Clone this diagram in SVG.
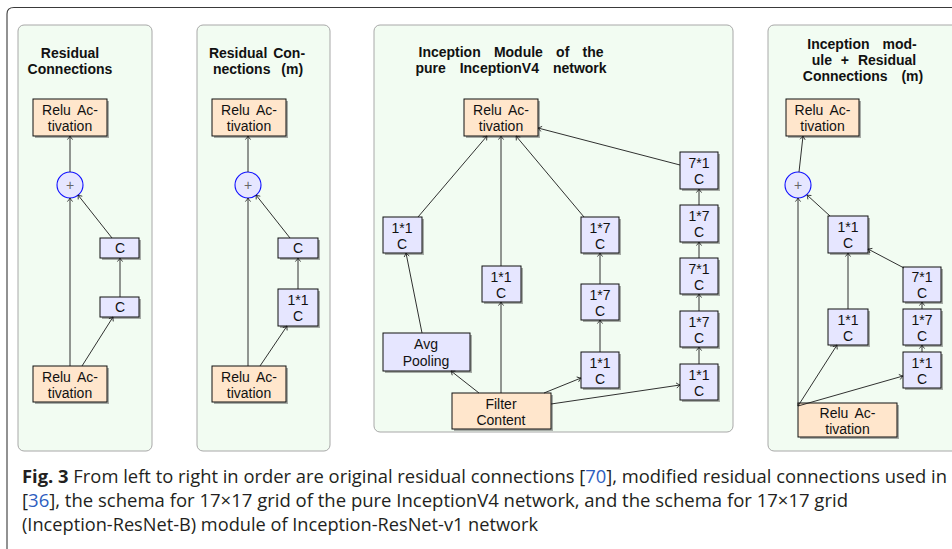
<svg xmlns="http://www.w3.org/2000/svg" width="952" height="549" viewBox="0 0 952 549">
<style>
.frame{fill:none;stroke:#3a3a3a;stroke-width:1.1}
.panel{fill:#F2FCF2;stroke:#A8A8A8;stroke-width:1}
.sh{fill:#6a6a6a;opacity:.55}
.relu{fill:#FFE6CC;stroke:#111;stroke-width:1}
.conv{fill:#E6E6FF;stroke:#111;stroke-width:1}
.add{fill:#E6E6FF;stroke:#1010FF;stroke-width:1.1}
.t{font-family:"Liberation Sans",Arial,sans-serif;font-size:14px;text-anchor:middle;fill:#111}
.h{font-weight:bold}
.plus{font-family:"Liberation Sans",Arial,sans-serif;font-size:14px;text-anchor:middle;fill:#666}
.e{stroke:#1a1a1a;stroke-width:0.9;fill:none;marker-end:url(#a)}
.cap{font-family:"Open Sans","Noto Sans",sans-serif;font-size:18px;fill:#231F20}
.ref{fill:#2E5EC0}
</style>
<defs>
<marker id="a" viewBox="-5 -4 8 8" markerWidth="8" markerHeight="8" refX="0" refY="0" orient="auto" markerUnits="userSpaceOnUse">
<path d="M-3.6,-2.6 Q-1.4,-0.7 0,0 Q-1.4,0.7 -3.6,2.6" fill="none" stroke="#1a1a1a" stroke-width="0.8"/>
</marker>
</defs>
<path class="frame" d="M7,549 V14 Q7,7.5 14,7.5 H952"/>

<!-- Panel 1 -->
<g id="panel1">
<rect class="panel" x="18" y="25" width="134" height="426" rx="6"/>
<text class="t h" x="70" y="58">Residual</text>
<text class="t h" x="70" y="74">Connections</text>
</g>
<g id="p1-relu-top"><rect class="sh" x="35" y="101" width="74" height="37"/><rect class="relu" x="33" y="99" width="74" height="37"/><text class="t" x="70" y="115" word-spacing="3">Relu Ac-</text><text class="t" x="70" y="131">tivation</text></g>
<g id="p1-add"><circle class="add" cx="70" cy="185" r="13"/><text class="plus" x="70" y="190">+</text></g>
<g id="p1-c2"><rect class="sh" x="102" y="240" width="39" height="20"/><rect class="conv" x="100" y="238" width="39" height="20"/><text class="t" x="120" y="253">C</text></g>
<g id="p1-c1"><rect class="sh" x="102" y="299" width="39" height="20"/><rect class="conv" x="100" y="297" width="39" height="20"/><text class="t" x="120" y="312">C</text></g>
<g id="p1-relu-bot"><rect class="sh" x="35" y="368" width="74" height="36"/><rect class="relu" x="33" y="366" width="74" height="36"/><text class="t" x="70" y="382" word-spacing="3">Relu Ac-</text><text class="t" x="70" y="398">tivation</text></g>

<!-- Panel 2 -->
<g id="panel2">
<rect class="panel" x="197" y="25" width="133" height="426" rx="6"/>
<text class="t h" x="257" y="58" word-spacing="2">Residual Con-</text>
<text class="t h" x="258" y="74" word-spacing="7">nections (m)</text>
</g>
<g id="p2-relu-top"><rect class="sh" x="214" y="101" width="74" height="37"/><rect class="relu" x="212" y="99" width="74" height="37"/><text class="t" x="249" y="115" word-spacing="3">Relu Ac-</text><text class="t" x="249" y="131">tivation</text></g>
<g id="p2-add"><circle class="add" cx="248" cy="185" r="13"/><text class="plus" x="248" y="190">+</text></g>
<g id="p2-c"><rect class="sh" x="280" y="240" width="40" height="20"/><rect class="conv" x="278" y="238" width="40" height="20"/><text class="t" x="298" y="253">C</text></g>
<g id="p2-c11"><rect class="sh" x="280" y="291" width="40" height="37"/><rect class="conv" x="278" y="289" width="40" height="37"/><text class="t" x="298" y="305">1*1</text><text class="t" x="298" y="321">C</text></g>
<g id="p2-relu-bot"><rect class="sh" x="214" y="368" width="74" height="36"/><rect class="relu" x="212" y="366" width="74" height="36"/><text class="t" x="249" y="382" word-spacing="3">Relu Ac-</text><text class="t" x="249" y="398">tivation</text></g>

<!-- Panel 3 -->
<g id="panel3">
<rect class="panel" x="374" y="25" width="359" height="407" rx="6"/>
<text class="t h" x="511" y="57" word-spacing="9.3">Inception Module of the</text>
<text class="t h" x="511" y="73" word-spacing="10">pure InceptionV4 network</text>
</g>
<g id="p3-relu"><rect class="sh" x="466" y="101" width="74" height="37"/><rect class="relu" x="464" y="99" width="74" height="37"/><text class="t" x="501" y="115" word-spacing="3">Relu Ac-</text><text class="t" x="501" y="131">tivation</text></g>
<g id="p3-r1"><rect class="sh" x="682" y="154" width="38" height="37"/><rect class="conv" x="680" y="152" width="38" height="37"/><text class="t" x="699" y="168">7*1</text><text class="t" x="699" y="184">C</text></g>
<g id="p3-r2"><rect class="sh" x="682" y="207" width="38" height="37"/><rect class="conv" x="680" y="205" width="38" height="37"/><text class="t" x="699" y="221">1*7</text><text class="t" x="699" y="237">C</text></g>
<g id="p3-r3"><rect class="sh" x="682" y="260" width="38" height="36"/><rect class="conv" x="680" y="258" width="38" height="36"/><text class="t" x="699" y="274">7*1</text><text class="t" x="699" y="290">C</text></g>
<g id="p3-r4"><rect class="sh" x="682" y="313" width="38" height="36"/><rect class="conv" x="680" y="311" width="38" height="36"/><text class="t" x="699" y="327">1*7</text><text class="t" x="699" y="343">C</text></g>
<g id="p3-r5"><rect class="sh" x="682" y="366" width="38" height="36"/><rect class="conv" x="680" y="364" width="38" height="36"/><text class="t" x="699" y="380">1*1</text><text class="t" x="699" y="396">C</text></g>
<g id="p3-l1"><rect class="sh" x="385" y="219" width="39" height="36"/><rect class="conv" x="383" y="217" width="39" height="36"/><text class="t" x="402" y="233">1*1</text><text class="t" x="402" y="249">C</text></g>
<g id="p3-m1"><rect class="sh" x="583" y="219" width="38" height="36"/><rect class="conv" x="581" y="217" width="38" height="36"/><text class="t" x="600" y="233">1*7</text><text class="t" x="600" y="249">C</text></g>
<g id="p3-c1"><rect class="sh" x="484" y="268" width="39" height="36"/><rect class="conv" x="482" y="266" width="39" height="36"/><text class="t" x="501" y="282">1*1</text><text class="t" x="501" y="298">C</text></g>
<g id="p3-m2"><rect class="sh" x="583" y="286" width="38" height="36"/><rect class="conv" x="581" y="284" width="38" height="36"/><text class="t" x="600" y="300">1*7</text><text class="t" x="600" y="316">C</text></g>
<g id="p3-m3"><rect class="sh" x="583" y="354" width="38" height="36"/><rect class="conv" x="581" y="352" width="38" height="36"/><text class="t" x="600" y="368">1*1</text><text class="t" x="600" y="384">C</text></g>
<g id="p3-avg"><rect class="sh" x="385" y="335" width="87" height="38"/><rect class="conv" x="383" y="333" width="87" height="38"/><text class="t" x="426" y="349">Avg</text><text class="t" x="426" y="366">Pooling</text></g>
<g id="p3-filter"><rect class="sh" x="454" y="395" width="99" height="36"/><rect class="relu" x="452" y="393" width="99" height="36"/><text class="t" x="501" y="409">Filter</text><text class="t" x="501" y="425">Content</text></g>

<!-- Panel 4 -->
<g id="panel4">
<rect class="panel" x="768" y="25" width="200" height="426" rx="6"/>
<text class="t h" x="862" y="49" word-spacing="9">Inception mod-</text>
<text class="t h" x="864" y="65" word-spacing="5">ule + Residual</text>
<text class="t h" x="863" y="81" word-spacing="10">Connections (m)</text>
</g>
<g id="p4-relu-top"><rect class="sh" x="788" y="101" width="73" height="37"/><rect class="relu" x="786" y="99" width="73" height="37"/><text class="t" x="822.5" y="115" word-spacing="3">Relu Ac-</text><text class="t" x="822.5" y="131">tivation</text></g>
<g id="p4-add"><circle class="add" cx="798" cy="185" r="13"/><text class="plus" x="798" y="190">+</text></g>
<g id="p4-t1"><rect class="sh" x="830" y="218" width="40" height="37"/><rect class="conv" x="828" y="216" width="40" height="37"/><text class="t" x="848" y="232">1*1</text><text class="t" x="848" y="248">C</text></g>
<g id="p4-r71"><rect class="sh" x="905" y="269" width="38" height="35"/><rect class="conv" x="903" y="267" width="38" height="35"/><text class="t" x="922" y="282">7*1</text><text class="t" x="922" y="298">C</text></g>
<g id="p4-r17"><rect class="sh" x="905" y="311" width="38" height="36"/><rect class="conv" x="903" y="309" width="38" height="36"/><text class="t" x="922" y="325">1*7</text><text class="t" x="922" y="341">C</text></g>
<g id="p4-r11"><rect class="sh" x="905" y="354" width="38" height="36"/><rect class="conv" x="903" y="352" width="38" height="36"/><text class="t" x="922" y="368">1*1</text><text class="t" x="922" y="384">C</text></g>
<g id="p4-m11"><rect class="sh" x="830" y="311" width="40" height="36"/><rect class="conv" x="828" y="309" width="40" height="36"/><text class="t" x="848" y="325">1*1</text><text class="t" x="848" y="341">C</text></g>
<g id="p4-relu-bot"><rect class="sh" x="800" y="405" width="99" height="34"/><rect class="relu" x="798" y="403" width="99" height="34"/><text class="t" x="847.5" y="418" word-spacing="3">Relu Ac-</text><text class="t" x="847.5" y="434">tivation</text></g>

<!-- Connectors -->
<g id="connectors">
<line class="e" x1="70" y1="366" x2="70" y2="198"/>
<line class="e" x1="82" y1="366" x2="113" y2="317"/>
<line class="e" x1="120" y1="297" x2="120" y2="258"/>
<line class="e" x1="112" y1="238" x2="78" y2="195"/>
<line class="e" x1="70" y1="172" x2="70" y2="136"/>

<line class="e" x1="248" y1="366" x2="248" y2="198"/>
<line class="e" x1="260" y1="366" x2="287" y2="326"/>
<line class="e" x1="298" y1="289" x2="298" y2="258"/>
<line class="e" x1="290" y1="238" x2="256" y2="195"/>
<line class="e" x1="248" y1="172" x2="248" y2="136"/>

<line class="e" x1="418" y1="217" x2="487" y2="136"/>
<line class="e" x1="501" y1="266" x2="501" y2="136"/>
<line class="e" x1="501" y1="393" x2="501" y2="302"/>
<line class="e" x1="584" y1="217" x2="516" y2="136"/>
<line class="e" x1="680" y1="165" x2="538" y2="128"/>
<line class="e" x1="422" y1="333" x2="406" y2="253"/>
<line class="e" x1="479" y1="393" x2="451" y2="371"/>
<line class="e" x1="544" y1="393" x2="581" y2="378"/>
<line class="e" x1="551" y1="404" x2="680" y2="385"/>
<line class="e" x1="600" y1="352" x2="600" y2="320"/>
<line class="e" x1="600" y1="284" x2="600" y2="253"/>
<line class="e" x1="699" y1="364" x2="699" y2="347"/>
<line class="e" x1="699" y1="311" x2="699" y2="294"/>
<line class="e" x1="699" y1="258" x2="699" y2="242"/>
<line class="e" x1="699" y1="205" x2="699" y2="189"/>

<line class="e" x1="798" y1="406" x2="798" y2="198"/>
<line class="e" x1="798" y1="406" x2="837" y2="345"/>
<line class="e" x1="798" y1="406" x2="903" y2="376"/>
<line class="e" x1="848" y1="309" x2="848" y2="253"/>
<line class="e" x1="904" y1="268" x2="868" y2="249"/>
<line class="e" x1="830" y1="216" x2="807" y2="195"/>
<line class="e" x1="799" y1="172" x2="803" y2="136"/>
<line class="e" x1="922" y1="352" x2="922" y2="345"/>
<line class="e" x1="922" y1="309" x2="922" y2="302"/>
</g>

<!-- Caption -->
<g id="caption">
<text class="cap" x="22" y="483" textLength="925" lengthAdjust="spacingAndGlyphs"><tspan font-weight="bold">Fig. 3</tspan>  From left to right in order are original residual connections [<tspan class="ref">70</tspan>], modified residual connections used in</text>
<text class="cap" x="22" y="507" textLength="826" lengthAdjust="spacingAndGlyphs">[<tspan class="ref">36</tspan>], the schema for 17×17 grid of the pure InceptionV4 network, and the schema for 17×17 grid</text>
<text class="cap" x="22" y="531" textLength="516" lengthAdjust="spacingAndGlyphs">(Inception-ResNet-B) module of Inception-ResNet-v1 network</text>
</g>
</svg>
